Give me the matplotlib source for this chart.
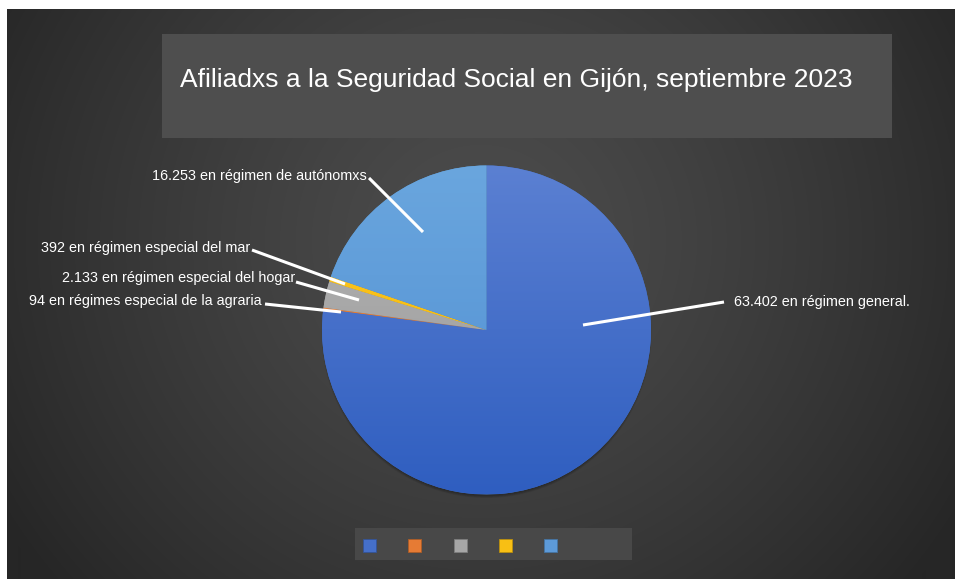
import numpy as np
import matplotlib
matplotlib.use("Agg")
import matplotlib.pyplot as plt
from matplotlib.patches import Rectangle, Circle
from matplotlib.colors import to_rgb

plt.rcParams['font.family'] = ['Liberation Sans', 'DejaVu Sans']

# data
categories = ["general", "agraria", "hogar", "mar", "autonomos"]
values = [63402, 94, 2133, 392, 16253]
labels = [
    "63.402 en régimen general.",
    "94 en régimes especial de la agraria",
    "2.133 en régimen especial del hogar",
    "392 en régimen especial del mar",
    "16.253 en régimen de autónomxs",
]
colors = ["#4472C4", "#ED7D31", "#A5A5A5", "#FFC000", "#5B9BD5"]
# lighter top / darker bottom of the office-style gradient fill
grad_top = ["#5b80d2", "#f28a45", "#b4b4b4", "#ffc928", "#6aa6de"]
grad_bot = ["#2f5ec0", "#db6d22", "#989898", "#f0b400", "#4f8ed2"]
title = "Afiliadxs a la Seguridad Social en Gijón, septiembre 2023"

W, H = 955, 579
fig = plt.figure(figsize=(W / 100, H / 100), dpi=100, facecolor="white")
ax = fig.add_axes([0, 0, 1, 1])

# background radial gradient
x0, y0 = 7, 9
yy, xx = np.mgrid[y0:H, x0:W]
d = np.sqrt(((xx - 480) / 560.0) ** 2 + ((yy - 240) / 540.0) ** 2)
d = np.clip(d, 0, 1)
g = (0x4c - (0x4c - 0x26) * d ** 1.3) / 255.0
bg = np.dstack([g, g, g])
ax.imshow(bg, extent=[x0, W, H, y0], origin="upper", zorder=0, interpolation="bilinear")

# title box
ax.add_patch(Rectangle((162, 34), 730, 104, facecolor="#4e4e4e", edgecolor="none", zorder=1))
ax.text(180, 80, title, color="white", fontsize=19.0, ha="left", va="center", zorder=2)

cx, cy, r = 486.5, 330, 164.5

# soft shadow under the pie
for k in range(5):
    ax.add_patch(Circle((cx, cy + 3), r + 0.5 - k * 0.6, facecolor="black",
                        alpha=0.06, edgecolor="none", zorder=2))

wedges, _ = ax.pie(values, colors=colors, startangle=-90, counterclock=True,
                   center=(cx, cy), radius=r, frame=True,
                   wedgeprops=dict(linewidth=0, zorder=3))

# vertical gradient inside each wedge
t = np.linspace(0, 1, 256)[:, None, None]
for w, ct, cb in zip(wedges, grad_top, grad_bot):
    top = np.array(to_rgb(ct))
    bot = np.array(to_rgb(cb))
    img = top * (1 - t) + bot * t
    img = np.repeat(img, 2, axis=1)
    im = ax.imshow(img, extent=[cx - r, cx + r, cy + r, cy - r], origin="upper",
                   zorder=4, interpolation="bilinear")
    im.set_clip_path(w)

# leader lines and labels
label_pos = [(734, 302), (262, 301), (295, 278), (250, 248), (367, 176)]
line_start = [(583, 325), (341, 312), (359, 300), (345, 284), (423, 232)]
line_end = [(724, 302), (265, 304), (296, 282), (252, 250), (369, 178)]
for i, lab in enumerate(labels):
    (sx, sy), (ex, ey) = line_start[i], line_end[i]
    ax.plot([sx, ex], [sy, ey], color="white", lw=2.2, zorder=6, solid_capstyle="butt")
    lx, ly = label_pos[i]
    ha = "left" if i == 0 else "right"
    ax.text(lx, ly, lab, color="white", fontsize=10.4, ha=ha, va="center", zorder=7)

# legend (swatches only, no text)
ax.add_patch(Rectangle((355, 528), 277, 32, facecolor="#484848", edgecolor="none", zorder=1))
for k, (ct, cb) in enumerate(zip(grad_top, grad_bot)):
    mid = (np.array(to_rgb(ct)) + np.array(to_rgb(cb))) / 2
    ax.add_patch(Rectangle((363 + 45.3 * k, 539), 13, 13, facecolor=mid,
                           edgecolor=mid * 0.75, lw=0.6, zorder=5))

ax.set_xlim(0, W)
ax.set_ylim(H, 0)
ax.set_aspect("auto")
ax.axis("off")

fig.savefig("out.png", dpi=100, facecolor="white")
